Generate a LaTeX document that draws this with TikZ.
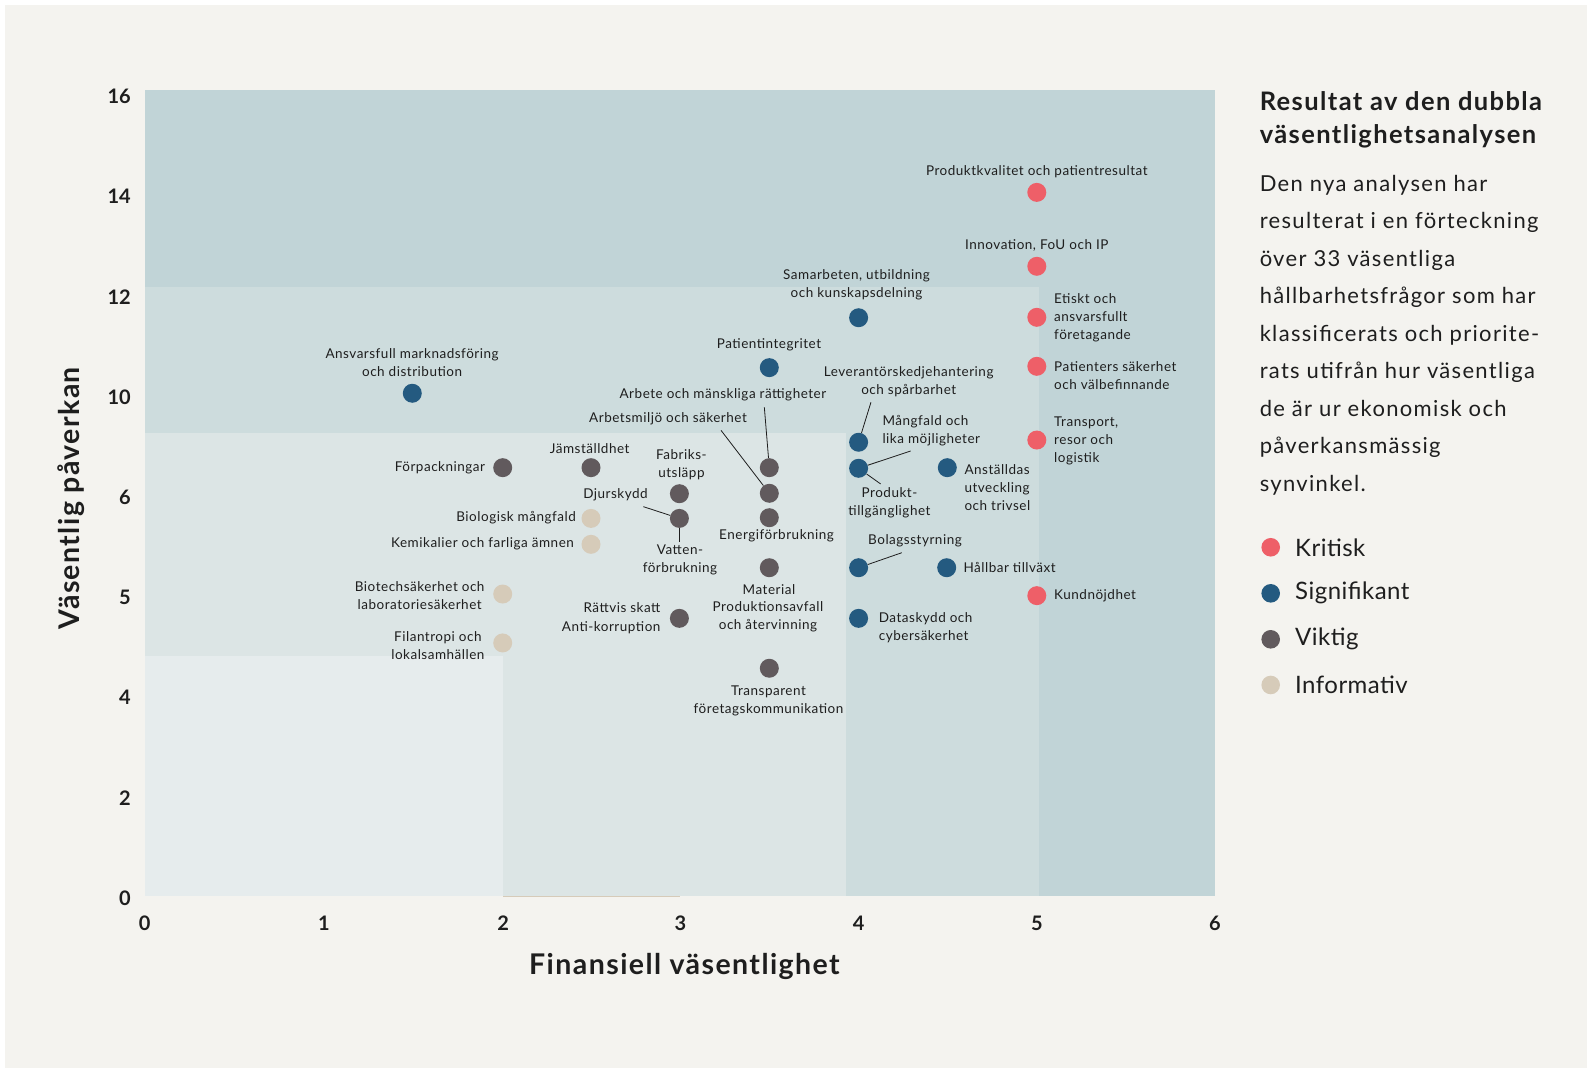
\documentclass[tikz,border=0pt]{standalone}
\usepackage{fontspec}
\setmainfont{Lato}
\newfontfamily\lblfont[LetterSpace=3.8]{Lato}
\newfontfamily\bodyfont[LetterSpace=6]{Lato}
\newfontfamily\ttlfont[LetterSpace=5.5]{Lato}
\newfontfamily\axfont[LetterSpace=5]{Lato}
\newfontfamily\legfont[LetterSpace=2]{Lato}
\definecolor{bgbeige}{HTML}{F4F3EF}
\definecolor{zoneA}{HTML}{C1D4D7}
\definecolor{zoneB}{HTML}{CDDCDD}
\definecolor{zoneC}{HTML}{DCE5E5}
\definecolor{zoneD}{HTML}{E6ECED}
\definecolor{kritisk}{HTML}{EE5F68}
\definecolor{signif}{HTML}{245A80}
\definecolor{viktig}{HTML}{615A5D}
\definecolor{inform}{HTML}{D6CBB9}
\definecolor{ink}{HTML}{1E1E1E}
\begin{document}
\begin{tikzpicture}[x=1.0125pt,y=-1.0125pt,
  dot/.style={circle,inner sep=0pt,minimum size=19pt},
  crit/.style={dot,fill=kritisk},
  sig/.style={dot,fill=signif},
  vik/.style={dot,fill=viktig},
  inf/.style={dot,fill=inform},
  lbl/.style={font=\lblfont\fontsize{13.5}{18}\selectfont,text=ink,inner sep=0pt,align=center},
  lblL/.style={lbl,anchor=west,align=left},
  lblR/.style={lbl,anchor=east,align=right},
  conn/.style={draw=ink,line width=0.8pt},
  tick/.style={font=\fontsize{20}{24}\selectfont\bfseries,text=ink,inner sep=0pt},
  axtitle/.style={font=\axfont\fontsize{28.5}{32}\selectfont\bfseries,text=ink,inner sep=0pt},
  legdot/.style={circle,inner sep=0pt,minimum size=18.6pt},
  legtxt/.style={font=\legfont\fontsize{24}{28}\selectfont,text=ink,inner sep=0pt,anchor=west}
]
\useasboundingbox (0,0) rectangle (1567.4,1054.8);
\fill[white] (0,0) rectangle (1567.4,1054.8);
\fill[bgbeige] (4.9,4.9) rectangle (1567.4,1054.8);
% zones
\fill[zoneA] (143,89) rectangle (1200,885);
\fill[zoneB] (143,283) rectangle (1026,885);
\fill[zoneC] (143,428) rectangle (836,885);
\fill[zoneD] (143,648) rectangle (497,885);
\draw[inform,line width=1pt] (497,885) -- (672,885);

% y ticks
\foreach \v/\yy in {16/94.8,14/194.3,12/293.3,10/392,6/491,5/590,4/689,2/788,0/887}
  \node[tick,anchor=east] (yt\v) at (129.4,\yy) {\v};
% x ticks
\foreach \v/\xx in {0/143,1/320,2/497,3/672,4/848,5/1024,6/1200}
  \node[tick] (xt\v) at (\xx,912) {\v};
\node[axtitle] (xtitle) at (676,955) {Finansiell väsentlighet};
\node[axtitle,rotate=90] (ytitle) at (70,492) {Väsentlig påverkan};

% Kritisk
\node[crit] (d1) at (1024,190) {};
\node[lbl] (l1) at (1024,169.5) {Produktkvalitet och patientresultat};
\node[crit] (d2) at (1024,263) {};
\node[lbl] (l2) at (1024,242.3) {Innovation, FoU och IP};
\node[crit] (d3) at (1024,313.4) {};
\node[lblL] (l3) at (1041,313.4) {Etiskt och\\ansvarsfullt\\företagande};
\node[crit] (d4) at (1024,361.8) {};
\node[lblL] (l4) at (1041,371.2) {Patienters säkerhet\\och välbefinnande};
\node[crit] (d5) at (1024,434.6) {};
\node[lblL] (l5) at (1041,435.3) {Transport,\\resor och\\logistik};
\node[crit] (d6) at (1024,588.3) {};
\node[lblL] (l6) at (1041,588.5) {Kundnöjdhet};

% Signifikant
\node[sig] (d7) at (848,313.8) {};
\node[lbl] (l7) at (846,281.2) {Samarbeten, utbildning\\och kunskapsdelning};
\node[sig] (d8) at (759.8,363.1) {};
\node[lbl] (l8) at (759.5,341) {Patientintegritet};
\node[sig] (d9) at (407.2,388.4) {};
\node[lbl] (l9) at (407,358) {Ansvarsfull marknadsföring\\och distribution};
\node[sig] (d10) at (848,436.8) {};
\node[lbl] (l10) at (897.5,376.8) {Leverantörskedjehantering\\och spårbarhet};
\coordinate (c10) at (860.2,397.3);
\draw[conn] (d10) -- (c10);
\node[sig] (d11) at (848,462.5) {};
\node[lblL] (l11) at (871.4,425.3) {Mångfald och\\lika möjligheter};
\coordinate (c11) at (899.4,445.4);
\draw[conn] (d11) -- (c11);
\node[lbl] (l12) at (878.5,496.8) {Produkt-\\tillgänglighet};
\coordinate (c12) at (869.8,478);
\draw[conn] (d11) -- (c12);
\node[sig] (d13) at (935.6,461.9) {};
\node[lblL] (l13) at (952.4,482) {Anställdas\\utveckling\\och trivsel};
\node[sig] (d14) at (848,560.7) {};
\node[lbl] (l14) at (903.7,534.3) {Bolagsstyrning};
\coordinate (c14) at (890.6,545.9);
\draw[conn] (d14) -- (c14);
\node[sig] (d15) at (935,560.7) {};
\node[lblL] (l15) at (951.4,560.7) {Hållbar tillväxt};
\node[sig] (d16) at (848,610.7) {};
\node[lblL] (l16) at (867.8,620.3) {Dataskydd och\\cybersäkerhet};

% Viktig
\node[vik] (d17) at (496.5,461.9) {};
\node[lblR] (l17) at (479.3,461.9) {Förpackningar};
\node[vik] (d18) at (583.7,461.9) {};
\node[lbl] (l18) at (582.4,443.1) {Jämställdhet};
\node[vik] (d19) at (671,487.6) {};
\node[lbl] (l19) at (673,458.6) {Fabriks-\\utsläpp};
\node[vik] (d20) at (671,512) {};
\node[lbl] (l20a) at (607.9,488.2) {Djurskydd};
\coordinate (c20a) at (635.4,500.4);
\draw[conn] (d20) -- (c20a);
\node[lbl] (l20b) at (671.6,553.1) {Vatten-\\förbrukning};
\coordinate (c20b) at (671,535);
\draw[conn] (d20) -- (c20b);
\node[vik] (d25) at (671,610.7) {};
\node[lblR] (l25a) at (652.5,599.8) {Rättvis skatt};
\node[lblR] (l25b) at (652.5,619.6) {Anti-korruption};
\node[vik] (d26) at (759.8,461.9) {};
\node[lbl] (l26) at (714,389.5) {Arbete och mänskliga rättigheter};
\coordinate (c26) at (754.9,402.3);
\draw[conn] (d26) -- (c26);
\node[vik] (d27) at (759.8,487.2) {};
\node[lbl] (l27) at (659.8,413.5) {Arbetsmiljö och säkerhet};
\coordinate (c27) at (712.1,425);
\draw[conn] (d27) -- (c27);
\node[vik] (d28) at (759.8,511.3) {};
\node[lbl] (l28) at (767,529.4) {Energiförbrukning};
\node[vik] (d29) at (759.8,560.7) {};
\node[lbl] (l29a) at (759.5,582) {Material};
\node[lbl] (l29b) at (758.5,609) {Produktionsavfall\\och återvinning};
\node[vik] (d30) at (759.8,660) {};
\node[lbl] (l30) at (759,692) {Transparent\\företagskommunikation};

% Informativ
\node[inf] (d21) at (583.7,512) {};
\node[lblR] (l21) at (568.9,511) {Biologisk mångfald};
\node[inf] (d22) at (583.7,537.6) {};
\node[lblR] (l22) at (567,536.6) {Kemikalier och farliga ämnen};
\node[inf] (d23) at (496.5,586.7) {};
\node[lbl] (l23) at (414.5,587.8) {Biotechsäkerhet och\\laboratoriesäkerhet};
\node[inf] (d24) at (496.5,635) {};
\node[lbl] (l24) at (432.5,637.3) {Filantropi och\\lokalsamhällen};

% right panel
\node[font=\ttlfont\fontsize{25.5}{32.7}\selectfont\bfseries,text=ink,inner sep=0pt,anchor=west,align=left] (title) at (1244,118.2)
  {Resultat av den dubbla\\väsentlighetsanalysen};
\node[font=\bodyfont\fontsize{22}{37.5}\selectfont,text=ink,inner sep=0pt,anchor=west,align=left] (body) at (1244,330.9)
  {Den nya analysen har\\resulterat i en förteckning\\över 33 väsentliga\\hållbarhetsfrågor som har\\klassificerats och priorite-\\rats utifrån hur väsentliga\\de är ur ekonomisk och\\påverkansmässig\\synvinkel.};
\node[legdot,fill=kritisk] (k1) at (1255,540.5) {};
\node[legtxt] (kt1) at (1279,540.5) {Kritisk};
\node[legdot,fill=signif] (k2) at (1255,586) {};
\node[legtxt] (kt2) at (1279,586) {Signifikant};
\node[legdot,fill=viktig] (k3) at (1255,631.4) {};
\node[legtxt] (kt3) at (1279,631.4) {Viktig};
\node[legdot,fill=inform] (k4) at (1255,676.5) {};
\node[legtxt] (kt4) at (1279,676.5) {Informativ};
\end{tikzpicture}
\end{document}
